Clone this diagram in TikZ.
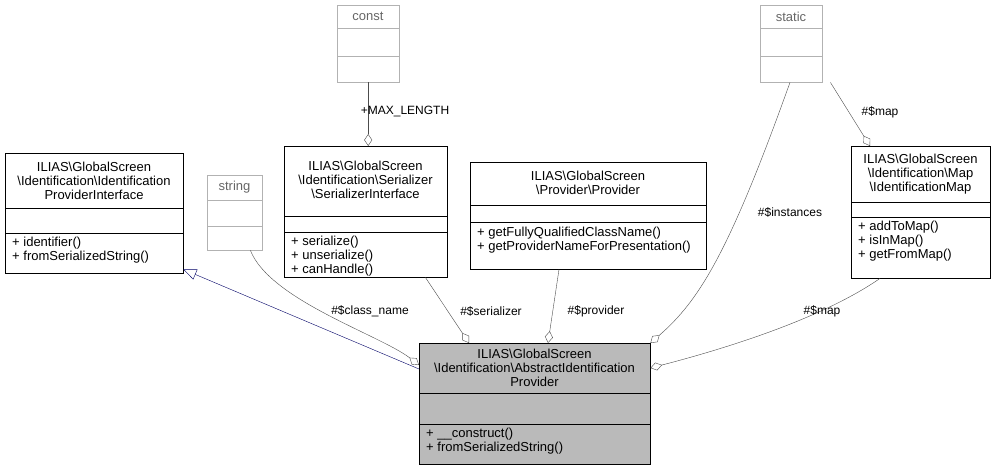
\documentclass[tikz,border=0pt]{standalone}
\usepackage{fontspec}
\setmainfont{Liberation Sans}
\usetikzlibrary{arrows.meta,calc}
\begin{document}
\begin{tikzpicture}[x=1pt,y=-1pt,
  box/.style={draw=black,anchor=north west,inner sep=0pt},
  gbox/.style={draw=black!30,anchor=north west,inner sep=0pt},
  txt/.style={font=\fontsize{13}{14}\selectfont,inner sep=0pt,align=center},
  mtxt/.style={font=\fontsize{13}{14}\selectfont,inner sep=0pt,align=left,anchor=north west},
  lbl/.style={font=\fontsize{12}{13}\selectfont,inner sep=1pt},
  agg/.style={draw=black!70,-{Diamond[open,length=12pt,width=8pt]}},
  inh/.style={draw=blue!40!black,-{Triangle[open,length=13pt,width=11pt]}}]
\useasboundingbox (0,0) rectangle (995,471);
% interface
\node[box,minimum width=178pt,minimum height=120pt] (pi) at (5,153) {};
\draw (5,208)--(183,208) (5,233)--(183,233);
\node[txt] (pit) at (94,180.5) {ILIAS\textbackslash GlobalScreen\\\textbackslash Identification\textbackslash Identification\\ProviderInterface};
\node[mtxt] (pim) at (12,237) {+ identifier()\\+ fromSerializedString()};
% string
\node[gbox,minimum width=55pt,minimum height=75pt] (str) at (207,175) {};
\draw[black!30] (207,200)--(262,200) (207,226)--(262,226);
\node[txt,text=black!60] (strt) at (234.5,187) {string};
% const
\node[gbox,minimum width=62pt,minimum height=77pt] (cst) at (337,5) {};
\draw[black!30] (337,28)--(399,28) (337,56)--(399,56);
\node[txt,text=black!60] (cstt) at (368,16.5) {const};
% serializer
\node[box,minimum width=163pt,minimum height=131pt] (ser) at (284,146) {};
\draw (284,216)--(447,216) (284,232)--(447,232);
\node[txt] (sert) at (365.5,180) {ILIAS\textbackslash GlobalScreen\\\textbackslash Identification\textbackslash Serializer\\\textbackslash SerializerInterface};
\node[mtxt] (serm) at (291,236) {+ serialize()\\+ unserialize()\\+ canHandle()};
% provider
\node[box,minimum width=236pt,minimum height=107pt] (prv) at (470,162) {};
\draw (470,205)--(706,205) (470,222)--(706,222);
\node[txt] (prvt) at (588,183) {ILIAS\textbackslash GlobalScreen\\\textbackslash Provider\textbackslash Provider};
\node[mtxt] (prvm) at (477,227) {+ getFullyQualifiedClassName()\\+ getProviderNameForPresentation()};
% static
\node[gbox,minimum width=62pt,minimum height=77pt] (sta) at (760,5) {};
\draw[black!30] (760,28)--(822,28) (760,56)--(822,56);
\node[txt,text=black!60] (stat) at (791,16.5) {static};
% map
\node[box,minimum width=139pt,minimum height=132pt] (map) at (851,146) {};
\draw (851,202)--(990,202) (851,217)--(990,217);
\node[txt] (mapt) at (920.5,174) {ILIAS\textbackslash GlobalScreen\\\textbackslash Identification\textbackslash Map\\\textbackslash IdentificationMap};
\node[mtxt] (mapm) at (858,221) {+ addToMap()\\+ isInMap()\\+ getFromMap()};
% main
\node[box,fill=black!27,minimum width=231pt,minimum height=121pt] (mn) at (419,343) {};
\draw (419,393)--(650,393) (419,424)--(650,424);
\node[txt] (mnt) at (534.5,368) {ILIAS\textbackslash GlobalScreen\\\textbackslash Identification\textbackslash AbstractIdentification\\Provider};
\node[mtxt] (mnm) at (426,428) {+ \_\_construct()\\+ fromSerializedString()};
% edges
\draw[inh] ($(mn.north west)+(0,26)$) -- ($(pi.south east)+(0,-4)$);
\draw[agg] ($(str.south east)+(-12,0)$) .. controls (270,300) and (380,335) .. ($(mn.north west)+(0,22)$);
\node[lbl] (l1) at (370,311) {\#\$class\_name};
\draw[agg] ($(ser.south east)+(-22,0)$) -- ($(mn.north west)+(50,0)$);
\node[lbl] (l2) at (491,311) {\#\$serializer};
\draw[agg] ($(prv.south west)+(89,0)$) -- ($(mn.north west)+(129,0)$);
\node[lbl] (l3) at (596,311) {\#\$provider};
\draw[agg] ($(sta.south west)+(30,0)$) .. controls (730,250) and (700,300) .. ($(mn.north east)+(0,0)$);
\node[lbl] (l4) at (790,212) {\#\$instances};
\draw[agg] ($(map.south west)+(29,0)$) .. controls (820,320) and (720,350) .. ($(mn.north east)+(0,25)$);
\node[lbl] (l5) at (822,311) {\#\$map};
\draw[agg] (cst.south) -- (ser.north -| cst.south);
\node[lbl] (l6) at (405,112) {+MAX\_LENGTH};
\draw[agg] ($(sta.south east)+(8,0)$) -- ($(map.north west)+(19,0)$);
\node[lbl] (l7) at (880,112) {\#\$map};
\end{tikzpicture}
\end{document}
